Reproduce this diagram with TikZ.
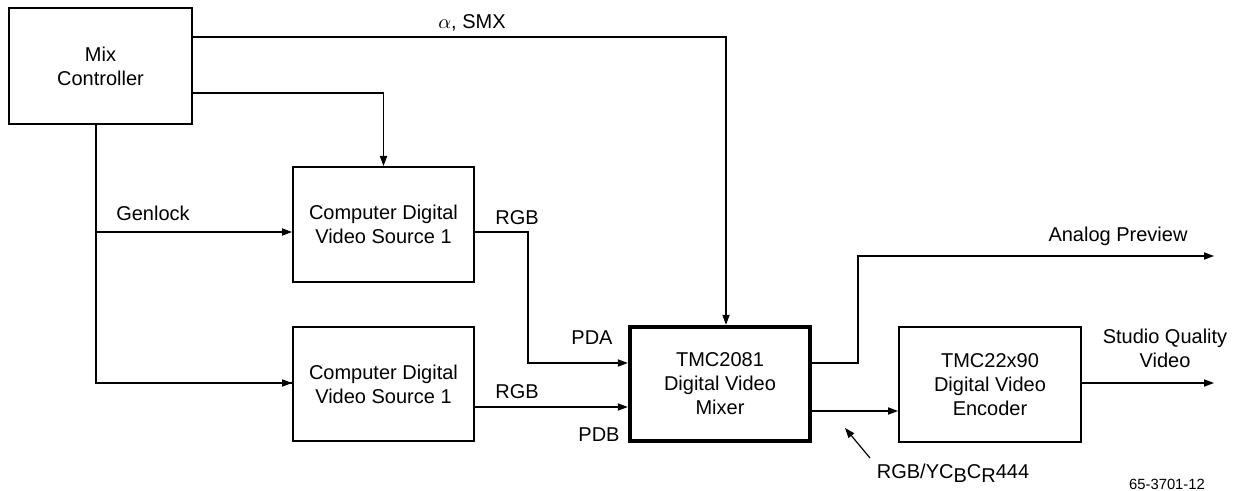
\documentclass[tikz,border=0pt]{standalone}
\usepackage{fontspec}
\setmainfont{Liberation Sans}
\usetikzlibrary{arrows.meta}
\begin{document}
\begin{tikzpicture}[x=0.5pt,y=-0.5pt,
  font=\fontsize{10}{12}\selectfont,
  box/.style={draw,line width=1pt,align=center,inner sep=0pt},
  wire/.style={line width=0.6pt},
  arr/.style={wire,-{Triangle[length=5pt,width=3.6pt]}},
  lbl/.style={inner sep=0pt,align=center}]
\useasboundingbox (0,0) rectangle (1238,491);
% blocks
\node[box,minimum width=91.5pt,minimum height=58pt] (mix) at (100.5,66) {Mix\\Controller};
\node[box,minimum width=90.5pt,minimum height=57.5pt] (src1) at (383.5,224.5) {Computer Digital\\Video Source 1};
\node[box,minimum width=90.5pt,minimum height=57pt] (src2) at (383.5,384) {Computer Digital\\Video Source 1};
\node[box,line width=2.2pt,minimum width=90pt,minimum height=57pt] (mixer) at (720,384) {TMC2081\\Digital Video\\Mixer};
\node[box,minimum width=91pt,minimum height=57.5pt] (enc) at (990,384.5) {TMC22x90\\Digital Video\\Encoder};
% free ends
\coordinate (ap) at (1214,256);
\coordinate (sq) at (1214,383);
\coordinate (g) at (96,232);
\coordinate (ptr) at (870,458);
\coordinate (ptrtip) at (845,428);
% connectors
\draw[arr] (mix.east |- 0,37) -- (726,37) -- (mixer.north -| 726,0);
\draw[arr] (mix.east |- 0,93) -| (src1.north);
\draw[wire] (mix.south -| g) -- (96,383) -- (src2.west |- 0,383);
\draw[arr] (96,383) -- (src2.west |- 0,383);
\draw[arr] (g) -- (src1.west |- g);
\draw[arr] (src1.east |- 0,232) -- (528,232) |- (mixer.west |- 0,363);
\draw[arr] (src2.east |- 0,407) -- (mixer.west |- 0,407);
\draw[arr] (mixer.east |- 0,363) -- (858,363) |- (ap);
\draw[arr] (mixer.east |- 0,411) -- (enc.west |- 0,411);
\draw[arr] (enc.east |- sq) -- (sq);
\draw[arr] (ptr) -- (ptrtip);
% labels
\node[lbl] at (472,23) {$\alpha$, SMX};
\node[lbl] at (153,213) {Genlock};
\node[lbl] at (517,218) {RGB};
\node[lbl] at (592,338) {PDA};
\node[lbl] at (517,392) {RGB};
\node[lbl] at (599,435) {PDB};
\node[lbl] at (1118,236) {Analog Preview};
\node[lbl] at (1165,348.5) {Studio Quality\\Video};
\node[lbl,anchor=base] at (953,479) {RGB/YC\raisebox{-0.35ex}{B}C\raisebox{-0.35ex}{R}444};
\node[lbl,font=\fontsize{7.4}{9}\selectfont] at (1167,484) {65-3701-12};
\end{tikzpicture}
\end{document}
